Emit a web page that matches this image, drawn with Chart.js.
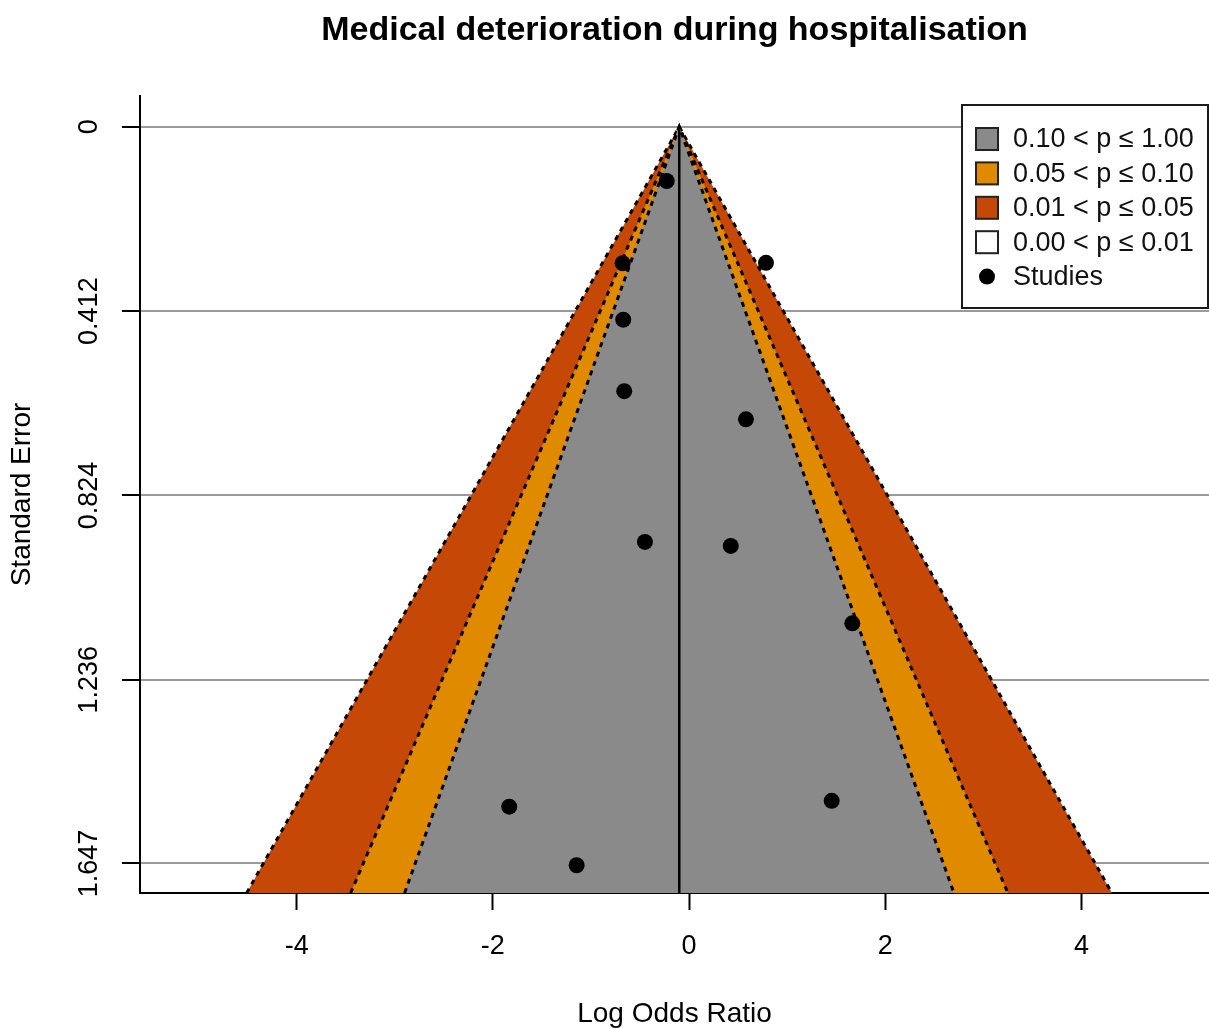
<!DOCTYPE html>
<html>
<head>
<meta charset="utf-8">
<title>Funnel plot</title>
<script src="https://cdn.jsdelivr.net/npm/chart.js@4"></script>
<style>
  html, body { margin: 0; padding: 0; background: #fff; }
  #wrap { width: 1209px; height: 1028px; }
</style>
</head>
<body>
<div id="wrap"><canvas id="funnel" width="1209" height="1028"></canvas></div>
<script>
// --- DATA ---
const studyLogOR = [-0.228, -0.677, 0.784, -0.671, -0.661, 0.580, -0.450, 0.425, 1.664, 1.454, -1.833, -1.146];
const studySE    = [0.121, 0.305, 0.304, 0.431, 0.591, 0.654, 0.928, 0.937, 1.110, 1.507, 1.520, 1.651];

const pooledEstimate = -0.100;
const funnelBottomSE = 1.713;
// funnel edges at the bottom of the plot, inner (p=0.10) to outer (p=0.01)
const contourLeft  = [-2.90, -3.45, -4.51];
const contourRight = [2.70, 3.25, 4.31];

const legendLabels = ["0.10 < p \u2264 1.00", "0.05 < p \u2264 0.10", "0.01 < p \u2264 0.05", "0.00 < p \u2264 0.01", "Studies"];

const xTicks = [-4, -2, 0, 2, 4];
const yTicks = [0, 0.412, 0.824, 1.236, 1.647];
const yTickLabels = ["0", "0.412", "0.824", "1.236", "1.647"];

const xRange = [-5.597, 5.30];
const yRange = [-0.069, 1.713];

// --- STYLE ---
const FONT = '"Liberation Sans", Arial, Helvetica, sans-serif';
const contourColors = ["#8a8a8a", "#e08a00", "#c54806"];
const legendFills = ["#8a8a8a", "#e08a00", "#c54806", "#ffffff"];


// draws the rotated y tick labels and the legend box
const extrasPlugin = {
    id: "extras",
    afterDraw(chart) {
        const ctx = chart.ctx;
        const y = chart.scales.y;

        // rotated y labels, R style
        ctx.save();
        ctx.fillStyle = "#000";
        ctx.font = "27px " + FONT;
        ctx.textAlign = "center";
        ctx.textBaseline = "middle";
        yTicks.forEach((v, i) => {
            const py = y.getPixelForValue(v);
            ctx.save();
            ctx.translate(90, py);
            ctx.rotate(-Math.PI / 2);
            ctx.fillText(yTickLabels[i], 0, 0);
            ctx.restore();
        });
        ctx.restore();

        // legend
        const bx = 962, by = 105, bw = 246, bh = 203;
        ctx.save();
        ctx.fillStyle = "#fff";
        ctx.fillRect(bx, by, bw, bh);
        ctx.strokeStyle = "#1a1a1a";
        ctx.lineWidth = 2;
        ctx.strokeRect(bx, by, bw, bh);

        ctx.font = "27px " + FONT;
        ctx.textAlign = "left";
        ctx.textBaseline = "middle";
        legendLabels.forEach((label, i) => {
            const cy = 139 + i * 34.4;
            if (i < legendFills.length) {
                ctx.fillStyle = legendFills[i];
                ctx.fillRect(976, cy - 11, 22, 22);
                ctx.strokeStyle = "#222";
                ctx.lineWidth = 2;
                ctx.strokeRect(976, cy - 11, 22, 22);
            } else {
                ctx.fillStyle = "#000";
                ctx.beginPath();
                ctx.arc(987, cy, 8, 0, Math.PI * 2);
                ctx.fill();
            }
            ctx.fillStyle = "#111";
            ctx.fillText(label, 1013, cy + 1);
        });
        ctx.restore();
    }
};


// --- DATASETS ---
const datasets = [];

// studies on top
datasets.push({
    label: "Studies",
    data: studyLogOR.map((v, i) => ({ x: v, y: studySE[i] })),
    showLine: false,
    pointRadius: 8,
    pointBorderWidth: 0,
    pointBackgroundColor: "#000",
    backgroundColor: "#000"
});

// vertical line at the pooled estimate
datasets.push({
    label: "estimate",
    data: [{ x: pooledEstimate, y: 0 }, { x: pooledEstimate, y: funnelBottomSE }],
    showLine: true,
    borderColor: "#000",
    borderWidth: 2.5,
    pointRadius: 0,
    fill: false
});

// contour regions, inner first so the outer ones are painted underneath
contourLeft.forEach((lo, i) => {
    datasets.push({
        label: "contour" + i,
        data: [
            { x: lo, y: funnelBottomSE },
            { x: pooledEstimate, y: 0 },
            { x: contourRight[i], y: funnelBottomSE }
        ],
        showLine: true,
        tension: 0,
        borderColor: "#000",
        borderWidth: 3,
        borderDash: [5, 5],
        pointRadius: 0,
        backgroundColor: contourColors[i],
        fill: { value: funnelBottomSE }
    });
});


let chart = new Chart(document.getElementById("funnel").getContext("2d"), {
    type: "scatter",
    data: { datasets: datasets },
    plugins: [extrasPlugin],
    options: {
        responsive: false,
        animation: false,
        events: [],
        layout: { padding: 0, autoPadding: false },
        scales: {
            x: {
                type: "linear",
                position: "bottom",
                min: xRange[0],
                max: xRange[1],
                afterBuildTicks: (s) => { s.ticks = xTicks.map(v => ({ value: v })); },
                afterFit: (s) => { s.height = 135; s.paddingLeft = 0; s.paddingRight = 0; },
                ticks: {
                    color: "#000",
                    font: { family: FONT, size: 27 },
                    padding: 20,
                    maxRotation: 0,
                    callback: (v) => String(v)
                },
                grid: {
                    drawOnChartArea: false,
                    drawTicks: true,
                    tickLength: 17,
                    tickColor: "#000",
                    tickWidth: 2
                },
                border: { display: true, color: "#000", width: 2 },
                title: {
                    display: true,
                    text: "Log Odds Ratio",
                    color: "#000",
                    font: { family: FONT, size: 28, lineHeight: 1 },
                    padding: { top: 0, bottom: 0 }
                }
            },
            y: {
                type: "linear",
                position: "left",
                reverse: true,
                min: yRange[0],
                max: yRange[1],
                afterBuildTicks: (s) => { s.ticks = yTicks.map(v => ({ value: v })); },
                afterFit: (s) => { s.width = 140; s.paddingTop = 0; s.paddingBottom = 0; },
                ticks: { display: false },
                grid: {
                    color: "#9a9a9a",
                    lineWidth: 2,
                    drawTicks: true,
                    tickLength: 18,
                    tickColor: "#000",
                    tickWidth: 2
                },
                border: { display: true, color: "#000", width: 2 },
                title: {
                    display: true,
                    text: "Standard Error",
                    color: "#000",
                    font: { family: FONT, size: 28, lineHeight: 1 },
                    padding: { top: 8, bottom: 0 }
                }
            }
        },
        plugins: {
            legend: { display: false },
            tooltip: { enabled: false },
            title: {
                display: true,
                fullSize: false,
                text: "Medical deterioration during hospitalisation",
                color: "#000",
                font: { family: FONT, size: 34, weight: "bold", lineHeight: 1 },
                padding: { top: 14, bottom: 48 }
            }
        }
    }
});
</script>
</body>
</html>
